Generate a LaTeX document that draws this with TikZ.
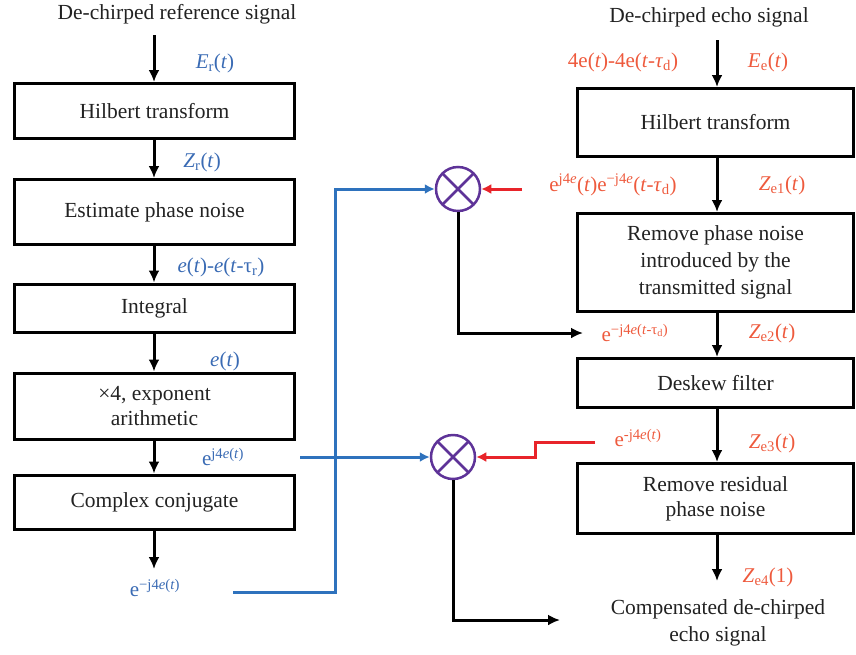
\documentclass[tikz,border=0pt]{standalone}
\usepackage{fontspec}
\setmainfont{Liberation Serif}
\usetikzlibrary{arrows.meta,calc}
\definecolor{lblue}{HTML}{3A6BB4}
\definecolor{lineblue}{HTML}{2E72BD}
\definecolor{lred}{HTML}{EE5A3D}
\definecolor{linered}{HTML}{E8242A}
\definecolor{cpurple}{HTML}{5E3398}
\definecolor{txt}{HTML}{222222}
\newcommand{\ita}[1]{\textit{#1}}
\begin{document}
\begin{tikzpicture}[x=1pt,y=-1pt,
  every node/.style={text=txt},
  boxnode/.style={draw=black, line width=3pt, inner sep=0pt, align=center,
     font=\fontsize{21.5}{25}\selectfont},
  lbox/.style={boxnode, minimum width=280pt},
  rbox/.style={boxnode, minimum width=276pt},
  plain/.style={font=\fontsize{21.5}{27}\selectfont, align=center, inner sep=0pt},
  blab/.style={font=\fontsize{21}{24}\selectfont, text=lblue, inner sep=0pt},
  rlab/.style={font=\fontsize{21}{24}\selectfont, text=lred, inner sep=0pt},
  flow/.style={draw=black, line width=3pt, -{Latex[length=12pt,width=11pt]}},
  blueflow/.style={draw=lineblue, line width=3pt, -{Latex[length=10pt,width=10pt]}},
  redflow/.style={draw=linered, line width=3pt, -{Latex[length=10pt,width=10pt]}},
  mixer/.style={circle, draw=cpurple, line width=2.5pt, minimum size=44pt, inner sep=0pt,
     path picture={\draw[cpurple, line width=2.5pt]
        (path picture bounding box.north west) -- (path picture bounding box.south east)
        (path picture bounding box.north east) -- (path picture bounding box.south west);}}
]
\useasboundingbox (0,0) rectangle (856,654);

% ---------------- left column ----------------
\node[plain] (reftitle) at (177,14) {De-chirped reference signal};
\coordinate (lin) at (154,35);
\node[lbox, minimum height=55pt] (B1) at (154.5,111) {Hilbert transform};
\node[lbox, minimum height=65pt] (B2) at (154.5,212) {Estimate phase noise};
\node[lbox, minimum height=48pt] (B3) at (154.5,308) {Integral};
\node[lbox, minimum height=66pt] (B4) at (154.5,406) {×4, exponent\\arithmetic};
\node[lbox, minimum height=54pt] (B5) at (154.5,502) {Complex conjugate};
\coordinate (lout) at (154,569);

\draw[flow] (lin) -- (lin |- B1.north);
\draw[flow] (B1.south -| lin) -- (B2.north -| lin);
\draw[flow] (B2.south -| lin) -- (B3.north -| lin);
\draw[flow] (B3.south -| lin) -- (B4.north -| lin);
\draw[flow] (B4.south -| lin) -- (B5.north -| lin);
\draw[flow] (B5.south -| lin) -- (lout);

\node[blab] (Er) at (215,63) {\ita{E}\textsubscript{r}(\ita{t})};
\node[blab] (Zr) at (202,162) {\ita{Z}\textsubscript{r}(\ita{t})};
\node[blab] (ediff) at (221,267) {\ita{e}(\ita{t})-\ita{e}(\ita{t}-τ\textsubscript{r})};
\node[blab] (et) at (225,361) {\ita{e}(\ita{t})};
\node[blab] (ej) at (223,457) {e\textsuperscript{j4\ita{e}(\ita{t})}};
\node[blab] (emj) at (155,588) {e\textsuperscript{−j4\ita{e}(\ita{t})}};

% ---------------- right column ----------------
\node[plain] (echotitle) at (709,17) {De-chirped echo signal};
\coordinate (rin) at (717,40);
\node[rbox, minimum height=68pt] (R1) at (715.5,122.5) {Hilbert transform};
\node[rbox, minimum height=98pt] (R2) at (715.5,262.5) {Remove phase noise\\[2pt]introduced by the\\[2pt]transmitted signal};
\node[rbox, minimum height=49pt] (R3) at (715.5,383) {Deskew filter};
\node[rbox, minimum height=70pt] (R4) at (715.5,498.5) {Remove residual\\phase noise};
\coordinate (rout) at (717,581);
\node[plain] (comp) at (718,623) {Compensated de-chirped\\echo signal};

\draw[flow] (rin) -- (rin |- R1.north);
\draw[flow] (R1.south -| rin) -- (R2.north -| rin);
\draw[flow] (R2.south -| rin) -- (R3.north -| rin);
\draw[flow] (R3.south -| rin) -- (R4.north -| rin);
\draw[flow] (R4.south -| rin) -- (rout);

\node[rlab] (fourE) at (623,62) {4e(\ita{t})-4e(\ita{t}-\ita{τ}\textsubscript{d})};
\node[rlab] (Ee) at (768,62) {\ita{E}\textsubscript{e}(\ita{t})};
\node[rlab] (eprod) at (613,185) {e\textsuperscript{j4\ita{e}}(\ita{t})e\textsuperscript{−j4\ita{e}}(\ita{t}-\ita{τ}\textsubscript{d})};
\node[rlab] (Ze1) at (782,185) {\ita{Z}\textsubscript{e1}(\ita{t})};
\node[rlab] (emjd) at (635,333) {e\textsuperscript{−j4\ita{e}(\ita{t}-τ\textsubscript{d})}};
\node[rlab] (Ze2) at (772,333) {\ita{Z}\textsubscript{e2}(\ita{t})};
\node[rlab] (emj2) at (638,438) {e\textsuperscript{-j4\ita{e}(\ita{t})}};
\node[rlab] (Ze3) at (772,443) {\ita{Z}\textsubscript{e3}(\ita{t})};
\node[rlab] (Ze4) at (768,577) {\ita{Z}\textsubscript{e4}(1)};

% ---------------- mixers ----------------
\node[mixer] (M1) at (458,189) {};
\node[mixer] (M2) at (453,457) {};

\coordinate (bstart) at (233,592);
\coordinate (bx) at (335,0);
\coordinate (b2start) at (300,457);
\coordinate (r1start) at (522,189);
\coordinate (r2start) at (595,442);
\coordinate (rx) at (535,0);
\coordinate (k1end) at (583,333);
\coordinate (k2end) at (560,620);

\draw[blueflow] (bstart) -| (bx |- M1) -- (M1.west);
\draw[blueflow] (b2start) -- (M2.west);
\draw[redflow] (r1start) -- (M1.east);
\draw[redflow] (r2start) -| (rx |- M2) -- (M2.east);
\draw[flow] (M1.south) |- (k1end);
\draw[flow] (M2.south) |- (k2end);
\end{tikzpicture}
\end{document}
